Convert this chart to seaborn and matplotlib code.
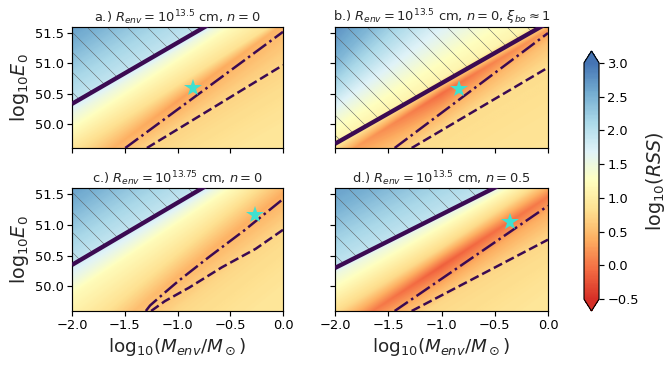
import numpy as np
import matplotlib
matplotlib.use("Agg")
import matplotlib.pyplot as plt
import seaborn as sns
from matplotlib.colors import LinearSegmentedColormap

# ---------------- data ----------------
M_LIM = (-2.0, 0.0)
E_LIM = (49.6, 51.6)
M_KNOTS = [-2.0, -1.0, 0.0]          # columns where the RSS iso-levels are specified

TITLES = [
    r"a.) $R_{env} = 10^{13.5}$ cm, $n = 0$",
    r"b.) $R_{env} = 10^{13.5}$ cm, $n = 0$, $\xi_{bo} \approx 1$",
    r"c.) $R_{env} = 10^{13.75}$ cm, $n = 0$",
    r"d.) $R_{env} = 10^{13.5}$ cm, $n = 0.5$",
]

# log10(RSS) iso-levels: E at M_KNOTS and value at M_KNOTS
A_LEVEL_E = [[46.0, 47.0, 48.0], [48.0, 49.0, 50.0], [48.84, 49.91, 50.98], [49.1, 50.38, 51.65],
             [49.55, 50.65, 51.75], [49.89, 51.02, 52.15], [50.14, 51.21, 52.28], [50.3, 51.3, 52.3],
             [50.4, 51.42, 52.44], [50.85, 51.92, 53.0], [51.3, 52.45, 53.6], [51.7, 52.9, 54.1],
             [53.0, 54.5, 56.0]]
A_LEVEL_V = [[0.95] * 3, [0.9] * 3, [0.72] * 3, [0.5, 0.3, 0.45], [0.85] * 3, [1.2] * 3, [1.5] * 3,
             [1.75] * 3, [1.95] * 3, [2.2] * 3, [2.5] * 3, [2.7] * 3, [3.0] * 3]

B_LEVEL_E = [[46.0, 47.0, 48.0], [47.5, 48.5, 49.5], [48.7, 49.85, 50.95], [49.0, 50.2, 51.35],
             [49.4, 50.5, 51.55], [49.72, 50.75, 51.78], [49.92, 51.02, 52.12], [50.18, 51.38, 52.58],
             [50.5, 51.95, 53.4], [51.0, 52.8, 54.6], [51.8, 54.0, 56.2]]
B_LEVEL_V = [[0.95] * 3, [0.9] * 3, [0.8] * 3, [0.65, 0.4, 0.55], [0.35, -0.05, 0.25], [1.1] * 3,
             [1.25] * 3, [1.55] * 3, [1.95] * 3, [2.45] * 3, [2.9] * 3]

C_LEVEL_E = [[45.0, 46.6, 48.0], [47.0, 48.6, 50.0], [48.0, 49.6, 50.9], [48.81, 50.16, 51.51],
             [49.15, 50.55, 51.95], [49.87, 51.01, 52.15], [50.09, 51.19, 52.29], [50.3, 51.31, 52.32],
             [50.42, 51.44, 52.46], [50.85, 51.92, 53.0], [51.3, 52.45, 53.6], [51.7, 52.9, 54.1],
             [53.0, 54.5, 56.0]]
C_LEVEL_V = [[0.95] * 3, [0.9] * 3, [0.75] * 3, [0.65, 0.45, 0.38], [0.85] * 3, [1.2] * 3, [1.5] * 3,
             [1.75] * 3, [1.95] * 3, [2.2] * 3, [2.5] * 3, [2.7] * 3, [3.0] * 3]

D_LEVEL_E = [[45.0, 46.5, 48.0], [47.3, 48.6, 49.9], [48.6, 49.75, 50.75], [48.9, 50.05, 51.2],
             [49.2, 50.33, 51.46], [49.55, 50.62, 51.75], [49.95, 50.95, 51.95], [50.2, 51.1, 52.0],
             [50.35, 51.22, 52.09], [50.8, 51.7, 52.6], [51.25, 52.2, 53.15], [51.7, 52.7, 53.7],
             [53.0, 54.0, 55.0]]
D_LEVEL_V = [[0.95] * 3, [0.9] * 3, [0.75] * 3, [0.55, 0.35, 0.4], [0.15, -0.15, 0.05], [0.75] * 3,
             [1.2] * 3, [1.5] * 3, [1.95] * 3, [2.2] * 3, [2.5] * 3, [2.7] * 3, [3.0] * 3]

# thick boundary line (hatched above)
A_BOUND_M, A_BOUND_E = [-2.0, 0.0], [50.33, 52.35]
B_BOUND_M, B_BOUND_E = [-2.0, 0.0], [49.67, 51.67]
C_BOUND_M, C_BOUND_E = [-2.0, 0.0], [50.35, 52.37]
D_BOUND_M, D_BOUND_E = [-2.0, 0.0], [50.30, 52.04]

# dash-dot curves
A_DD_M, A_DD_E = [-1.495, 0.0], [49.6, 51.52]
B_DD_M, B_DD_E = [-1.44, 0.0], [49.6, 51.5]
C_DD_M = [-1.30, -1.26, -1.20, -1.12, -0.99, -0.70, -0.36, 0.0]
C_DD_E = [49.6, 49.69, 49.78, 49.90, 50.09, 50.48, 50.92, 51.42]
D_DD_M, D_DD_E = [-1.44, 0.0], [49.6, 51.31]

# dashed curves
A_DA_M, A_DA_E = [-1.29, 0.0], [49.6, 50.97]
B_DA_M, B_DA_E = [-1.28, 0.0], [49.6, 50.93]
C_DA_M = [-1.25, -1.12, -0.89, -0.58, -0.26, 0.0]
C_DA_E = [49.6, 49.76, 49.98, 50.31, 50.61, 50.92]
D_DA_M, D_DA_E = [-1.28, 0.0], [49.6, 50.76]

# best-fit stars
STAR_M = [-0.85, -0.84, -0.265, -0.36]
STAR_E = [50.59, 50.58, 51.16, 51.05]

CBAR_TICKS = [-0.5, 0.0, 0.5, 1.0, 1.5, 2.0, 2.5, 3.0]
VMIN, VMAX = -0.5, 3.0

PANELS = [
    dict(le=A_LEVEL_E, lv=A_LEVEL_V, bm=A_BOUND_M, be=A_BOUND_E, ddm=A_DD_M, dde=A_DD_E, dam=A_DA_M, dae=A_DA_E),
    dict(le=B_LEVEL_E, lv=B_LEVEL_V, bm=B_BOUND_M, be=B_BOUND_E, ddm=B_DD_M, dde=B_DD_E, dam=B_DA_M, dae=B_DA_E),
    dict(le=C_LEVEL_E, lv=C_LEVEL_V, bm=C_BOUND_M, be=C_BOUND_E, ddm=C_DD_M, dde=C_DD_E, dam=C_DA_M, dae=C_DA_E),
    dict(le=D_LEVEL_E, lv=D_LEVEL_V, bm=D_BOUND_M, be=D_BOUND_E, ddm=D_DD_M, dde=D_DD_E, dam=D_DA_M, dae=D_DA_E),
]

# ---------------- styling ----------------
sns.set_style("ticks")
plt.rcParams.update({
    "font.family": ["DejaVu Sans"],
    "axes.edgecolor": "black",
    "axes.linewidth": 0.7,
    "xtick.color": "black",
    "ytick.color": "black",
    "xtick.major.width": 0.7,
    "ytick.major.width": 0.7,
    "xtick.major.size": 3.0,
    "ytick.major.size": 3.0,
    "hatch.linewidth": 0.3,
    "hatch.color": "#5a5a5a",
    "mathtext.fontset": "dejavusans",
})

base = sns.color_palette("RdYlBu", as_cmap=True)
cmap = LinearSegmentedColormap.from_list("rdylbu_trunc", base(np.linspace(0.1, 0.9, 256)))
LINE_COLOR = "#3b0a52"

DPI = 120
fig = plt.figure(figsize=(672 / DPI, 371 / DPI), dpi=DPI)
W, H = 672.0, 371.0
boxes = [(72, 27, 283, 148), (335, 27, 548, 148), (72, 188, 283, 311), (335, 188, 548, 311)]
axes = []
for (x0, y0, x1, y1) in boxes:
    axes.append(fig.add_axes([x0 / W, 1 - y1 / H, (x1 - x0) / W, (y1 - y0) / H]))

Mg = np.linspace(M_LIM[0], M_LIM[1], 420)
Eg = np.linspace(E_LIM[0], E_LIM[1], 260)

im = None
for i, (ax, p) in enumerate(zip(axes, PANELS)):
    le = np.asarray(p["le"])
    lv = np.asarray(p["lv"])
    Z = np.empty((Eg.size, Mg.size))
    for j, m in enumerate(Mg):
        e_at = np.array([np.interp(m, M_KNOTS, row) for row in le])
        v_at = np.array([np.interp(m, M_KNOTS, row) for row in lv])
        Z[:, j] = np.interp(Eg, e_at, v_at)
    im = ax.imshow(Z, origin="lower", extent=[M_LIM[0], M_LIM[1], E_LIM[0], E_LIM[1]],
                   aspect="auto", cmap=cmap, vmin=VMIN, vmax=VMAX, interpolation="bilinear", zorder=0)

    bm = np.linspace(M_LIM[0], M_LIM[1], 50)
    be = np.interp(bm, p["bm"], p["be"])
    ax.fill_between(bm, be, E_LIM[1] + 1.0, facecolor="none", edgecolor="#5a5a5a",
                    hatch="\\\\", linewidth=0, zorder=1)
    ax.plot(p["bm"], p["be"], color=LINE_COLOR, lw=2.6, solid_capstyle="butt", zorder=3)
    ax.plot(p["ddm"], p["dde"], color=LINE_COLOR, lw=1.5, ls="-.", zorder=3)
    ax.plot(p["dam"], p["dae"], color=LINE_COLOR, lw=1.5, ls="--", zorder=3)
    ax.plot(STAR_M[i], STAR_E[i], marker="*", color="turquoise", ms=11, mew=0, ls="none", zorder=4)

    ax.set_xlim(*M_LIM)
    ax.set_ylim(*E_LIM)
    ax.set_xticks([-2.0, -1.5, -1.0, -0.5, 0.0])
    ax.set_yticks([50.0, 50.5, 51.0, 51.5])
    ax.tick_params(labelsize=7.8, length=3, width=0.7, pad=2)
    ax.set_title(TITLES[i], fontsize=7.8, pad=3)
    if i in (0, 1):
        ax.set_xticklabels([])
    else:
        ax.set_xlabel(r"$\mathrm{log}_{10}(M_{env}/M_\odot)$", fontsize=11, labelpad=2)
    if i in (1, 3):
        ax.set_yticklabels([])
    else:
        ax.set_ylabel(r"$\mathrm{log}_{10}E_0$", fontsize=11.5, labelpad=2)
    for s in ax.spines.values():
        s.set_visible(True)

cax = fig.add_axes([584 / W, 1 - 311 / H, 15 / W, 260 / H])
cb = fig.colorbar(im, cax=cax, extend="both", ticks=CBAR_TICKS)
cb.ax.tick_params(labelsize=7.8, length=3, width=0.7, pad=2)
cb.outline.set_linewidth(0.7)
cb.set_label(r"$\mathrm{log}_{10}(RSS)$", fontsize=11.5, labelpad=3)

fig.savefig("out.png", dpi=DPI)
